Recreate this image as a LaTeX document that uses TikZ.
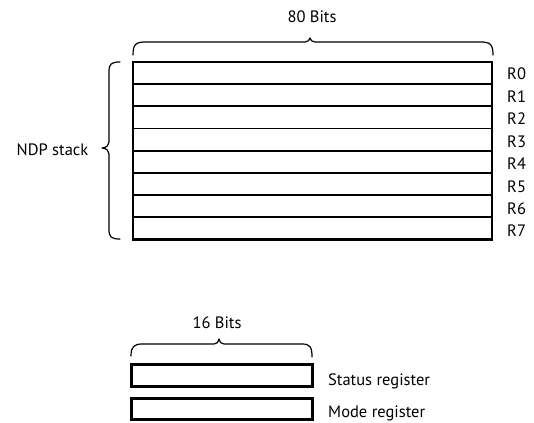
\documentclass[tikz,border=0pt]{standalone}
\usepackage{fontspec}
\setmainfont{PT Sans}
\begin{document}
\begin{tikzpicture}[x=1pt,y=-1pt,
  lbl/.style={inner sep=0pt,font=\fontsize{16.5}{16.5}\selectfont},
  brc/.style={line width=1.2pt,line join=round,line cap=round},
  rowline/.style={line width=1.8pt},
  frame/.style={line width=2.4pt},
  regbox/.style={line width=3pt}]
\useasboundingbox (0,0) rectangle (534,422);
% main stack
\coordinate (stTL) at (133,62);
\coordinate (stBR) at (492,239.5);
\foreach \i in {1,...,7}{
  \draw[rowline] (133,{62+\i*22.19}) -- (492,{62+\i*22.19});
}
\draw[frame] (stTL) rectangle (stBR);
% register labels
\foreach \i in {0,...,7}{
  \node[lbl,anchor=base west] (r\i) at (507,{80+\i*22.4}) {R\i};
}
% top brace
\coordinate (tb1) at (133,55);
\coordinate (tb2) at (493,55);
\draw[brc] (tb1) .. controls (133,44) and (136,42) .. (146,42) -- (305,42)
  .. controls (308,42) and (309.5,40) .. (310,38)
  .. controls (310.5,40) and (312,42) .. (315,42) -- (480,42)
  .. controls (490,42) and (493,44) .. (tb2);
\node[lbl,anchor=base] (b80) at (312,23) {80 Bits};
% left brace
\coordinate (lb1) at (120,62);
\coordinate (lb2) at (120,239);
\draw[brc] (lb1) .. controls (111,62) and (109,64) .. (109,72) -- (109,142)
  .. controls (109,145) and (107,147.5) .. (102,148)
  .. controls (107,148.5) and (109,151) .. (109,154) -- (109,229)
  .. controls (109,237) and (111,239) .. (lb2);
\node[lbl,anchor=base east] (ndp) at (88.5,155) {NDP stack};
% small registers
\draw[regbox] (131,364) rectangle (312,386) coordinate (stat);
\draw[regbox] (131,398) rectangle (312,419.5) coordinate (mode);
\coordinate (sb1) at (131,356);
\coordinate (sb2) at (312,357);
\draw[brc] (sb1) .. controls (131,347) and (134,344) .. (142,344) -- (214,344)
  .. controls (217,344) and (218.5,342) .. (219,339)
  .. controls (219.5,342) and (221,344) .. (224,344) -- (302,344)
  .. controls (310,344) and (312,347) .. (sb2);
\node[lbl,anchor=base] (b16) at (217,328) {16 Bits};
\node[lbl,anchor=base west] (sr) at (328,385) {Status register};
\node[lbl,anchor=base west] (mr) at (328,417.5) {Mode register};
\end{tikzpicture}
\end{document}
